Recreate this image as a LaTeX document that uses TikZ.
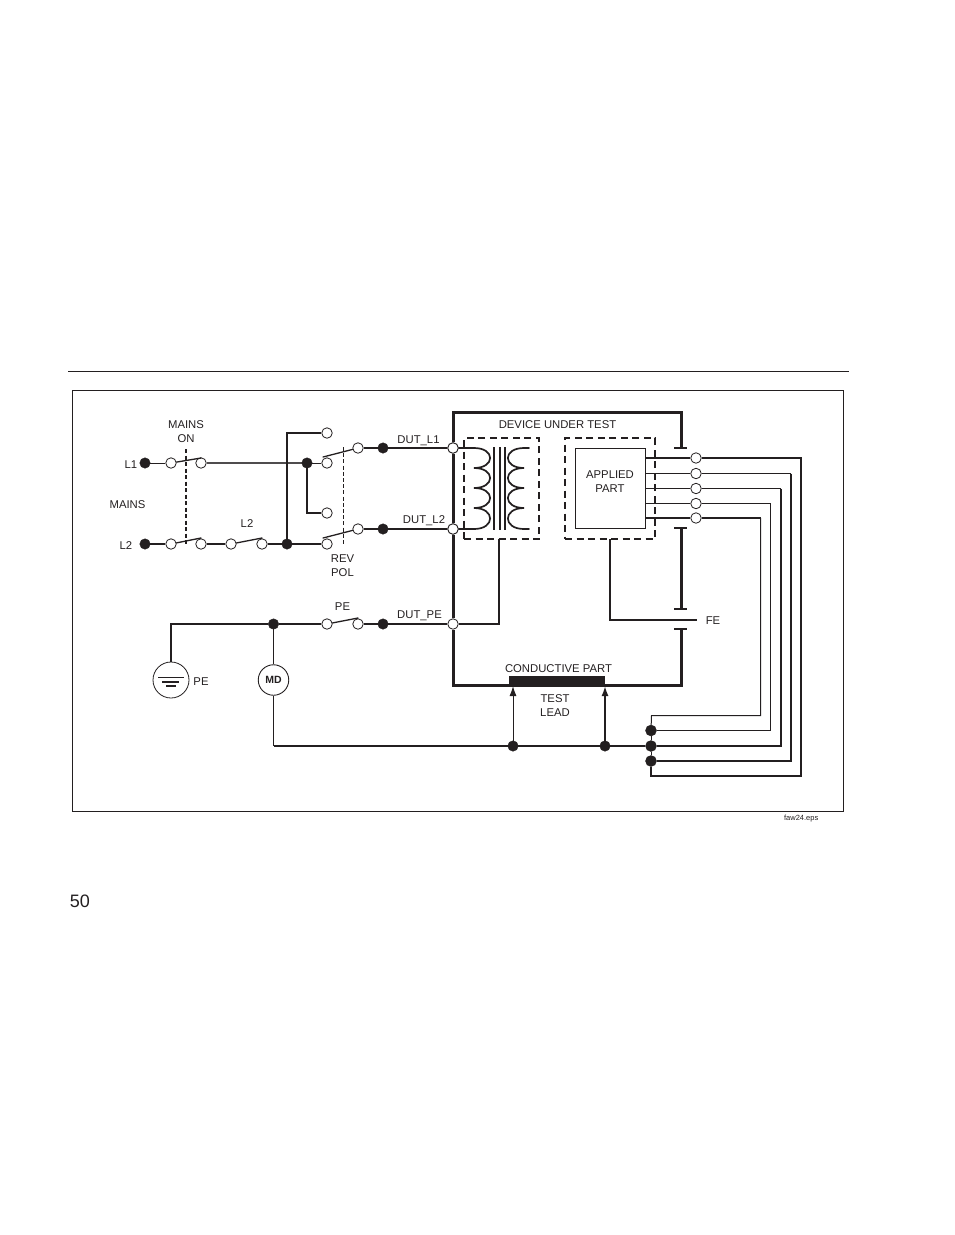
\documentclass[tikz,border=0pt]{standalone}
\usepackage{fontspec}
\setmainfont{Liberation Sans}
\usetikzlibrary{arrows.meta}
\pgfdeclarelayer{wires}
\pgfsetlayers{wires,main}
\definecolor{ink}{HTML}{231F20}
\tikzset{
  jdot/.style={circle,fill=ink,draw=ink,line width=.4pt,inner sep=0pt,minimum size=10.5pt},
  jopen/.style={circle,fill=white,draw=ink,line width=.8pt,inner sep=0pt,minimum size=10.5pt},
  tag/.style={font=\fontsize{11.3}{14}\selectfont,text=ink,inner sep=0pt,align=center},
  hair/.style={draw=ink,line width=.9pt},
  thinw/.style={draw=ink,line width=1pt},
  midw/.style={draw=ink,line width=1.7pt},
  thickw/.style={draw=ink,line width=2pt},
  heavy/.style={draw=ink,line width=3pt},
  teebar/.style={draw=ink,line width=2.6pt},
  blade/.style={draw=ink,line width=1.3pt,line cap=round},
  tip/.style={-{Latex[length=10pt,width=7pt]}},
}
\begin{document}
\begin{tikzpicture}[x=1pt,y=-1pt]
\useasboundingbox (0,0) rectangle (954,1235);
% page furniture
\coordinate (ruleL) at (68,371); \coordinate (ruleR) at (849,371);
\draw[draw=ink,line width=1pt] (ruleL) -- (ruleR);
\node[draw=ink,line width=.8pt,minimum width=771pt,minimum height=421pt,inner sep=0pt] (frame) at (457.5,600.5) {};
\node[text=ink,inner sep=0pt,font=\fontsize{18}{20}\selectfont] (pagenum) at (80,901) {50};
\node[text=ink,inner sep=0pt,anchor=east,font=\fontsize{7.5}{9}\selectfont] (fname) at (818.5,819) {faw24.eps};

% terminals left
\node[jdot] (l1) at (145,463) {};
\node[jopen] (a1) at (171,463) {};
\node[jopen] (a2) at (201,463) {};
\node[jdot] (l2) at (145,544) {};
\node[jopen] (b1) at (171,544) {};
\node[jopen] (b2) at (201,544) {};
\node[jopen] (b3) at (231,544) {};
\node[jopen] (b4) at (262,544) {};
\node[jdot] (b5) at (287,544) {};
\node[jopen] (r0) at (327,433) {};
\node[jopen] (r1) at (327,463) {};
\node[jopen] (r2) at (327,513) {};
\node[jopen] (r3) at (327,544) {};
\node[jdot] (c1) at (307,463) {};
\node[jopen] (s1) at (358,448) {};
\node[jdot] (d1) at (383,448) {};
\node[jopen] (s2) at (358,529) {};
\node[jdot] (d2) at (383,529) {};
\node[jopen] (t1) at (453,448) {};
\node[jopen] (t2) at (453,529) {};
\node[jopen] (t3) at (453,624) {};
% PE row
\node[jdot] (p1) at (273.5,624) {};
\node[jopen] (p2) at (327,624) {};
\node[jopen] (p3) at (358,624) {};
\node[jdot] (p4) at (383,624) {};
\node[circle,draw=ink,line width=.8pt,fill=white,minimum size=36pt,inner sep=0pt] (gnd) at (171,680) {};
\node[circle,draw=ink,line width=.9pt,fill=white,minimum size=30.5pt,inner sep=0pt,text=ink,font=\bfseries\fontsize{10.5}{12}\selectfont] (md) at (273.5,680) {MD\hspace{1pt}};
% applied part and dashed housings
\node[draw=ink,line width=1pt,minimum width=70.5pt,minimum height=80pt,inner sep=0pt] (ap) at (610.5,488.5) {};
\node[draw=ink,line width=1.5pt,dash pattern=on 7pt off 4.5pt,minimum width=75pt,minimum height=101pt,inner sep=0pt] (hx) at (501.5,488.5) {};
\node[draw=ink,line width=1.5pt,dash pattern=on 7pt off 4.5pt,minimum width=90pt,minimum height=101pt,inner sep=0pt] (hy) at (610,488.5) {};
% AP terminals
\node[jopen] (o1) at (696,458) {};
\node[jopen] (o2) at (696,473.5) {};
\node[jopen] (o3) at (696,488.5) {};
\node[jopen] (o4) at (696,503.5) {};
\node[jopen] (o5) at (696,518) {};
% return bus
\node[jdot,minimum size=11pt] (e1) at (651,730.5) {};
\node[jdot,minimum size=11pt] (e2) at (651,746) {};
\node[jdot,minimum size=11pt] (e3) at (651,761) {};
\node[jdot] (f1) at (513,746) {};
\node[jdot] (f2) at (605,746) {};
% conductive part
\node[fill=ink,minimum width=96pt,minimum height=10pt,inner sep=0pt] (cp) at (557,681) {};

\begin{pgfonlayer}{wires}
% L1 row
\draw[hair] (l1) -- (a1);
\draw[midw,draw=ink!80] (a2) -- (c1);
\draw[thinw] (c1) -- (r1);
% L2 row
\draw[thickw] (l2) -- (b1);
\draw[thickw] (b2) -- (b3);
\draw[thickw] (b4) -- (b5);
\draw[thickw] (b5) -- (r3);
\draw[midw] (b5) |- (r0);
\draw[midw] (c1) |- (r2);
% rev-pol outputs
\draw[thickw] (s1) -- (d1);
\draw[thickw] (s2) -- (d2);
\draw[thickw] (d1) -- (t1);
\draw[thickw] (d2) -- (t2);
% DUT case
\coordinate (caseTL) at (453,412);
\coordinate (caseTR) at (681,412);
\coordinate (caseT1) at (681,448);
\coordinate (caseT2) at (681,528);
\coordinate (caseT3) at (681,609);
\coordinate (caseT4) at (681,629);
\coordinate (caseBR) at (681,685);
\coordinate (caseBL) at (453,685);
\draw[heavy,line join=miter] (t1) -- (caseTL) -- (caseTR) -- (caseT1);
\draw[heavy] (t1) -- (t2);
\draw[heavy] (t2) -- (t3);
\draw[heavy,line join=miter] (t3) -- (caseBL) -- (caseBR) -- (caseT4);
\draw[heavy] (caseT2) -- (caseT3);
\draw[teebar] (674,448) -- (687,448);
\draw[teebar] (674,528) -- (687,528);
\draw[teebar] (674,609) -- (687,609);
\draw[teebar] (674,629) -- (687,629);
% PE row
\draw[thickw] (gnd.center) -- (171,624) -- (p1);
\draw[thickw] (p1) -- (p2);
\draw[thickw] (p3) -- (p4);
\draw[thickw] (p4) -- (t3);
\draw[thinw] (p1) -- (md);
\draw[thinw] (md) -- (md |- e2);
% HX/HY drains
\draw[midw] (t3) -- (499,624) -- (499,539);
\draw[midw] (610,539) -- (610,620) -- (697,620);
% applied part leads
\draw[midw] (ap.east |- o1) -- (o1);
\draw[hair] (ap.east |- o2) -- (o2);
\draw[hair] (ap.east |- o3) -- (o3);
\draw[hair] (ap.east |- o4) -- (o4);
\draw[midw] (ap.east |- o5) -- (o5);
% right-hand wiring
\draw[midw,line join=miter] (o1) -- (801,458) -- (801,776) -- (651,776) -- (e3);
\draw[hair] (o2) -- (791,473.5);
\draw[midw,line join=miter] (791,473.5) -- (791,761) -- (e3);
\draw[hair] (o3) -- (781,488.5);
\draw[midw,line join=miter] (781,488.5) -- (781,746) -- (e2);
\draw[hair] (o4) -- (770.5,503.5);
\draw[thinw,line join=miter] (770.5,503.5) -- (770.5,730.5) -- (e1);
\draw[midw] (o5) -- (760.5,518);
\draw[thinw,line join=miter] (760.5,518) -- (760.5,715.5) -- (651.5,715.5) -- (e1);
\draw[thinw] (e1) -- (e2);
\draw[thinw] (e2) -- (e3);
\draw[midw] (e2) -- (f2);
\draw[midw] (f2) -- (f1);
\draw[midw] (f1) -- (md |- f1);
\end{pgfonlayer}
% arrows to conductive part
\draw[thinw,tip] (f1) -- (513,686);
\draw[midw,tip] (f2) -- (605,686);

% switch blades
\coordinate (sw1) at (201,458); \coordinate (sw2) at (201,538); \coordinate (sw3) at (262,538);
\coordinate (sw4) at (323,457); \coordinate (sw5) at (323,538); \coordinate (sw6) at (358,618);
\draw[blade] (a1) -- (sw1);
\draw[blade] (b1) -- (sw2);
\draw[blade] (b3) -- (sw3);
\draw[blade] (s1) -- (sw4);
\draw[blade] (s2) -- (sw5);
\draw[blade] (p2) -- (sw6);
% ganged dashed links
\draw[draw=ink,line width=1.6pt,dash pattern=on 4pt off 2.5pt] (186,449) -- (186,544);
\draw[draw=ink,line width=.7pt,dash pattern=on 4pt off 2.2pt] (343,447) -- (343,546);
% transformer
\draw[midw,line cap=round] (t1) -- (474,448)
  .. controls (495.5,448) and (495.5,468) .. (474,468)
  .. controls (495.5,468) and (495.5,488) .. (474,488)
  .. controls (495.5,488) and (495.5,508) .. (474,508)
  .. controls (495.5,508) and (495.5,529) .. (474,529) -- (t2);
\draw[midw,line cap=round] (529,448) -- (524,448)
  .. controls (502.5,448) and (502.5,468) .. (524,468)
  .. controls (502.5,468) and (502.5,488) .. (524,488)
  .. controls (502.5,488) and (502.5,508) .. (524,508)
  .. controls (502.5,508) and (502.5,529) .. (524,529) -- (529,529);
\draw[midw] (494,447) -- (494,530);
\draw[midw] (500,447) -- (500,530);
\draw[midw] (505,447) -- (505,530);
% ground bars
\draw[thinw] (158,677) -- (184,677);
\draw[midw] (162,682) -- (179,682);
\draw[midw] (166,686) -- (176,686);
% redraw terminals over blades/coil
\node[jopen] at (t1) {};
\node[jopen] at (t2) {};
% labels
\node[tag] (tm) at (186,431.5) {MAINS\\ON};
\node[tag] (tl1) at (131,464.5) {L1};
\node[tag] (tmn) at (127.5,504.5) {MAINS};
\node[tag] (tl2) at (126,545.5) {L2};
\node[tag] (tl2b) at (247,523.5) {L2};
\node[tag] (trv) at (342.5,565.5) {REV\\POL};
\node[tag] (tdl1) at (418.5,440.5) {DUT\_L1};
\node[tag] (tdl2) at (424,520.5) {DUT\_L2};
\node[tag] (tdpe) at (419.5,615.5) {DUT\_PE};
\node[tag] (tdev) at (557.5,424.5) {DEVICE UNDER TEST};
\node[tag] (tap) at (610,481.5) {APPLIED\\PART};
\node[tag] (tcp) at (558.5,668.5) {CONDUCTIVE PART};
\node[tag] (ttl) at (555,705.5) {TEST\\LEAD};
\node[tag] (tfe) at (713,620.5) {FE};
\node[tag] (tpe) at (342.5,606.5) {PE};
\node[tag] (tgn) at (201,681.5) {PE};
\end{tikzpicture}
\end{document}
